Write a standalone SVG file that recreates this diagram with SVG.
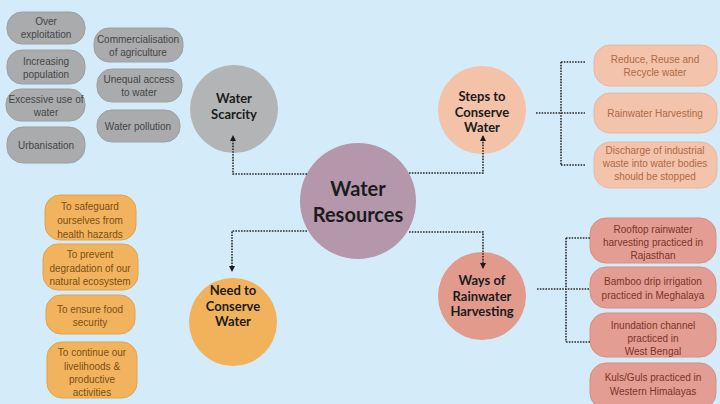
<svg xmlns="http://www.w3.org/2000/svg" width="720" height="404" viewBox="0 0 720 404">
<defs>
<style>
.bg{fill:#d4ecf9}
.ttl{font-family:"Lato","Open Sans","DejaVu Sans",sans-serif;font-weight:bold;text-anchor:middle;fill:#1c1c1c}
.t13{font-size:13px}
.t19{font-size:20px}
.bt{font-family:"Liberation Sans","DejaVu Sans",sans-serif;font-size:10px;text-anchor:middle}
.grey rect{fill:#a9abac;stroke:#9c9ea0;stroke-width:1}
.grey text{fill:#464646}
.peach rect{fill:#f3c3ab;stroke:#ebb69c;stroke-width:1}
.peach text{fill:#b06a45}
.salmon rect{fill:#e39d92;stroke:#d88d82;stroke-width:1}
.salmon text{fill:#7e3428}
.orange rect{fill:#f1b35e;stroke:#e2a24c;stroke-width:1}
.orange text{fill:#7d4f14}
.con path{fill:none;stroke:#2b2b2b;stroke-width:1.6;stroke-dasharray:1.6 1.2}
</style>
<marker id="ah" viewBox="0 0 6 6" refX="5" refY="3" markerWidth="6" markerHeight="6" markerUnits="userSpaceOnUse" orient="auto">
<path d="M0,0 L6,3 L0,6 z" fill="#1c1c1c"/>
</marker>
</defs>
<rect class="bg" x="0" y="0" width="720" height="404"/>

<g id="water-resources">
<circle cx="358" cy="201" r="58" fill="#b497ab"/>
<text class="ttl t19" x="358" y="196">Water</text>
<text class="ttl t19" x="358" y="222">Resources</text>
</g>

<g id="water-scarcity">
<circle cx="234" cy="109" r="44" fill="#b3b4b5"/>
<text class="ttl t13" x="234" y="103">Water</text>
<text class="ttl t13" x="234" y="119">Scarcity</text>
</g>

<g id="steps-to-conserve">
<circle cx="482" cy="110" r="44" fill="#f3c2a8"/>
<text class="ttl t13" x="482" y="101">Steps to</text>
<text class="ttl t13" x="482" y="116.5">Conserve</text>
<text class="ttl t13" x="482" y="132">Water</text>
</g>

<g id="need-to-conserve">
<circle cx="233" cy="322" r="44" fill="#f2b25c"/>
<text class="ttl t13" x="233" y="295">Need to</text>
<text class="ttl t13" x="233" y="310.5">Conserve</text>
<text class="ttl t13" x="233" y="326">Water</text>
</g>

<g id="ways-of-harvesting">
<circle cx="482" cy="296" r="44" fill="#e29a8c"/>
<text class="ttl t13" x="482" y="285">Ways of</text>
<text class="ttl t13" x="482" y="300.5">Rainwater</text>
<text class="ttl t13" x="482" y="316">Harvesting</text>
</g>

<g id="over-exploitation" class="grey">
<rect x="7" y="12" width="78" height="32" rx="15"/>
<text class="bt" x="46" y="25">Over</text>
<text class="bt" x="46" y="38">exploitation</text>
</g>
<g id="increasing-population" class="grey">
<rect x="7" y="50" width="78" height="34" rx="15"/>
<text class="bt" x="46" y="65">Increasing</text>
<text class="bt" x="46" y="78">population</text>
</g>
<g id="excessive-use" class="grey">
<rect x="6" y="89" width="79" height="32" rx="15"/>
<text class="bt" x="46" y="103">Excessive use of</text>
<text class="bt" x="46" y="116">water</text>
</g>
<g id="urbanisation" class="grey">
<rect x="7" y="127" width="78" height="36" rx="16"/>
<text class="bt" x="46" y="149">Urbanisation</text>
</g>
<g id="commercialisation" class="grey">
<rect x="94" y="28" width="89" height="34" rx="15"/>
<text class="bt" x="138" y="43">Commercialisation</text>
<text class="bt" x="138" y="56">of agriculture</text>
</g>
<g id="unequal-access" class="grey">
<rect x="97" y="69" width="85" height="33" rx="15"/>
<text class="bt" x="139" y="83">Unequal access</text>
<text class="bt" x="139" y="96">to water</text>
</g>
<g id="water-pollution" class="grey">
<rect x="97" y="110" width="83" height="32" rx="15"/>
<text class="bt" x="138" y="130">Water pollution</text>
</g>

<g id="reduce-reuse" class="peach">
<rect x="594" y="45" width="123" height="41" rx="16"/>
<text class="bt" x="655" y="63">Reduce, Reuse and</text>
<text class="bt" x="655" y="76">Recycle water</text>
</g>
<g id="rainwater-harvesting" class="peach">
<rect x="594" y="93" width="123" height="40" rx="16"/>
<text class="bt" x="655" y="117">Rainwater Harvesting</text>
</g>
<g id="discharge" class="peach">
<rect x="594" y="142" width="123" height="46" rx="16"/>
<text class="bt" x="655" y="154">Discharge of industrial</text>
<text class="bt" x="655" y="167">waste into water bodies</text>
<text class="bt" x="655" y="180">should be stopped</text>
</g>

<g id="rooftop" class="salmon">
<rect x="590" y="218" width="126" height="45" rx="16"/>
<text class="bt" x="653" y="233">Rooftop rainwater</text>
<text class="bt" x="653" y="246">harvesting practiced in</text>
<text class="bt" x="653" y="259">Rajasthan</text>
</g>
<g id="bamboo" class="salmon">
<rect x="590" y="267" width="126" height="41" rx="16"/>
<text class="bt" x="653" y="285">Bamboo drip irrigation</text>
<text class="bt" x="653" y="299">practiced in Meghalaya</text>
</g>
<g id="inundation" class="salmon">
<rect x="590" y="313" width="126" height="44" rx="16"/>
<text class="bt" x="653" y="329">Inundation channel</text>
<text class="bt" x="653" y="342">practiced in</text>
<text class="bt" x="653" y="355">West Bengal</text>
</g>
<g id="kuls-guls" class="salmon">
<rect x="590" y="363" width="126" height="46" rx="16"/>
<text class="bt" x="653" y="381">Kuls/Guls practiced in</text>
<text class="bt" x="653" y="395">Western Himalayas</text>
</g>

<g id="safeguard" class="orange">
<rect x="45" y="195" width="91" height="45" rx="15"/>
<text class="bt" x="90" y="210">To safeguard</text>
<text class="bt" x="90" y="224">ourselves from</text>
<text class="bt" x="90" y="238">health hazards</text>
</g>
<g id="prevent-degradation" class="orange">
<rect x="43" y="244" width="95" height="46" rx="15"/>
<text class="bt" x="90" y="258">To prevent</text>
<text class="bt" x="90" y="272">degradation of our</text>
<text class="bt" x="90" y="285">natural ecosystem</text>
</g>
<g id="food-security" class="orange">
<rect x="46" y="295" width="89" height="39" rx="15"/>
<text class="bt" x="90" y="313">To ensure food</text>
<text class="bt" x="90" y="326">security</text>
</g>
<g id="livelihoods" class="orange">
<rect x="47" y="342" width="90" height="56" rx="15"/>
<text class="bt" x="92" y="356">To continue our</text>
<text class="bt" x="92" y="370">livelihoods &amp;</text>
<text class="bt" x="92" y="383">productive</text>
<text class="bt" x="92" y="396">activities</text>
</g>

<g id="connectors" class="con">
<path d="M307,174 H233 V136" marker-end="url(#ah)"/>
<path d="M409,173 H483 V136" marker-end="url(#ah)"/>
<path d="M307,231 H232 V271" marker-end="url(#ah)"/>
<path d="M409,232 H483 V268" marker-end="url(#ah)"/>
<path d="M536,113 H585 M561,62 V165 M561,62 H585 M561,165 H585"/>
<path d="M537,289 H590 M566,238 V342 M566,238 H590 M566,342 H590"/>
</g>
</svg>
